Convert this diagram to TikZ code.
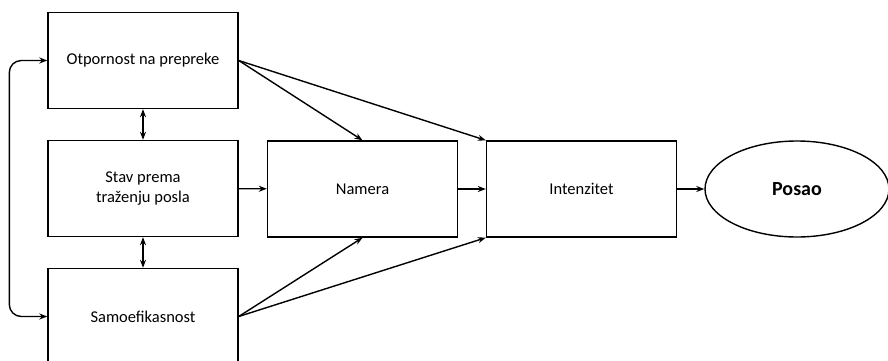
\documentclass[tikz,border=0pt]{standalone}
\usepackage{fontspec}
\setmainfont{Carlito}
\usetikzlibrary{shapes.geometric,arrows.meta}

\begin{document}
\begin{tikzpicture}[x=1pt,y=-1pt,
  box/.style = {draw, line width=1.4pt, minimum width=190pt, minimum height=96pt, inner sep=0pt, align=center,
                font=\fontsize{16.5}{19.5}\selectfont},
  goal/.style = {draw, ellipse, line width=1.4pt, minimum width=184pt, minimum height=96pt, inner sep=0pt,
                 font=\fontsize{20}{22}\selectfont\bfseries},
  arr/.style = {line width=1.4pt, -{Stealth[length=8pt,width=6pt]}},
  darr/.style = {line width=1.4pt, {Stealth[length=8pt,width=6pt]}-{Stealth[length=8pt,width=6pt]}}]

\clip (0,0) rectangle (888,361);
\useasboundingbox (0,0) rectangle (888,361);

\node[box] (otp) at (143,60.5) {Otpornost na prepreke};
\node[box] (stav) at (143,188.5) {Stav prema\\ traženju posla};
\node[box] (samo) at (143,316.5) {Samoefikasnost};

\node[box] (nam) at (362.5,189) {Namera};
\node[box] (int) at (581.5,189) {Intenzitet};
\node[goal] (pos) at (797,189) {Posao};

% vertical links
\draw[darr] (otp) -- (stav);
\draw[darr] (stav) -- (samo);
\draw[darr, rounded corners=12pt] (otp.west) -- ++(-38,0) |- (samo.west);

% into Namera and Intenzitet
\draw[arr] (otp.east) -- (nam.north);
\draw[arr] (otp.east) -- (int.north west);
\draw[arr] (stav) -- (nam);
\draw[arr] (samo.east) -- (nam.south);
\draw[arr] (samo.east) -- (int.south west);

\draw[arr] (nam) -- (int);
\draw[arr] (int) -- (pos);
\end{tikzpicture}
\end{document}
